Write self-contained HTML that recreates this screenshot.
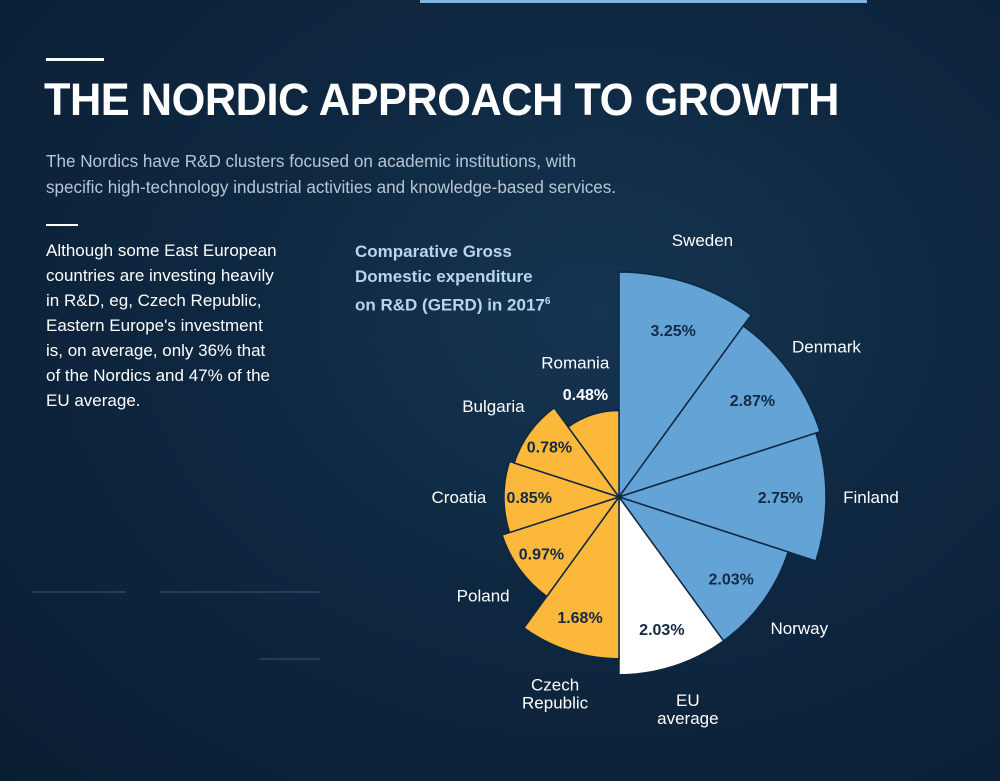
<!DOCTYPE html>
<html><head><meta charset="utf-8">
<style>
html,body{margin:0;padding:0}
body{width:1000px;height:781px;overflow:hidden;position:relative;font-family:"Liberation Sans",sans-serif;
background:radial-gradient(ellipse at 60% 40%,#163552 0%,#0e2740 45%,#0a1e33 100%);color:#fff}
.abs{position:absolute}
</style></head><body>
<div class="abs" style="left:420px;top:0;width:447px;height:3px;background:#7fb3e0"></div>
<div class="abs" style="left:46px;top:58px;width:58px;height:3px;background:#fff"></div>
<div class="abs" style="left:44px;top:74px;font-size:45px;font-weight:bold;letter-spacing:-0.5px;transform:scaleX(0.963);transform-origin:left top;white-space:nowrap">THE NORDIC APPROACH TO GROWTH</div>
<div class="abs" style="left:46px;top:149px;font-size:17.1px;line-height:26px;color:#b7c6d6;white-space:nowrap">The Nordics have R&amp;D clusters focused on academic institutions, with<br>specific high-technology industrial activities and knowledge-based services.</div>
<div class="abs" style="left:46px;top:224px;width:32px;height:2px;background:#fff"></div>
<div class="abs" style="left:46px;top:238px;font-size:17px;line-height:25px;color:#fff">Although some East European<br>countries are investing heavily<br>in R&amp;D, eg, Czech Republic,<br>Eastern Europe's investment<br>is, on average, only 36% that<br>of the Nordics and 47% of the<br>EU average.</div>
<div class="abs" style="left:355px;top:239px;font-size:17px;line-height:25px;font-weight:bold;color:#b8d5f0">Comparative Gross<br>Domestic expenditure<br>on R&amp;D (GERD) in 2017<sup style="font-size:10px">6</sup></div>
<svg class="abs" style="left:0;top:0" width="1000" height="781">
<g id="decor" stroke="#4a7aa6" stroke-width="1" opacity="0.6">
<line x1="32" y1="592" x2="126" y2="592"/><line x1="160" y1="592" x2="320" y2="592"/><line x1="260" y1="659" x2="320" y2="659"/>
</g>
<g id="wedges"></g><g id="labels"></g>
</svg>
<script>
const categories=["Sweden","Denmark","Finland","Norway","EU average","Czech Republic","Poland","Croatia","Bulgaria","Romania"];
const values=[3.25,2.87,2.75,2.03,2.03,1.68,0.97,0.85,0.78,0.48];
const valueLabels=["3.25%","2.87%","2.75%","2.03%","2.03%","1.68%","0.97%","0.85%","0.78%","0.48%"];
const groups=["nordic","nordic","nordic","nordic","eu","east","east","east","east","east"];
const cx=619,cy=497,rMax=225,vMax=3.25;
const ns="http://www.w3.org/2000/svg";
function rScale(v){return rMax*Math.sqrt(v/vMax);}
function pt(r,a){const t=a*Math.PI/180;return [cx+r*Math.sin(t),cy-r*Math.cos(t)];}
const colors={nordic:"#64a3d6",eu:"#ffffff",east:"#fbb83a"};
const wg=document.getElementById("wedges"),lg=document.getElementById("labels");
const step=360/categories.length;
categories.forEach((c,i)=>{
 const r=rScale(values[i]),a0=i*step,a1=a0+step;
 const p0=pt(r,a0),p1=pt(r,a1);
 const p=document.createElementNS(ns,"path");
 p.setAttribute("d",`M${cx},${cy}L${p0[0]},${p0[1]}A${r},${r} 0 0 1 ${p1[0]},${p1[1]}Z`);
 p.setAttribute("fill",colors[groups[i]]);p.setAttribute("stroke","#0e2740");p.setAttribute("stroke-width","1.5");
 
 
 wg.appendChild(p);
 const am=a0+step/2;
 const small=r<100;
 const vp=small?pt(r+22,am):pt(r*0.78,am);
 const t=document.createElementNS(ns,"text");
 t.setAttribute("x",vp[0]);t.setAttribute("y",vp[1]+6);t.setAttribute("text-anchor","middle");
 t.setAttribute("font-size","16");t.setAttribute("font-weight","bold");t.setAttribute("fill",small?"#fff":"#132a44");
 t.textContent=valueLabels[i];
 
 
 lg.appendChild(t);
 const cp=pt(r+(small?55:45),am);
 const words=c==="EU average"?["EU","average"]:c==="Czech Republic"?["Czech","Republic"]:[c];
 words.forEach((w,k)=>{
  const tt=document.createElementNS(ns,"text");
  tt.setAttribute("x",cp[0]);tt.setAttribute("y",cp[1]+6+(k-(words.length-1)/2)*18);tt.setAttribute("text-anchor","middle");
  tt.setAttribute("font-size","17");tt.setAttribute("fill","#fff");tt.textContent=w;
  
  
  lg.appendChild(tt);
 });
});
</script>
</body></html>
